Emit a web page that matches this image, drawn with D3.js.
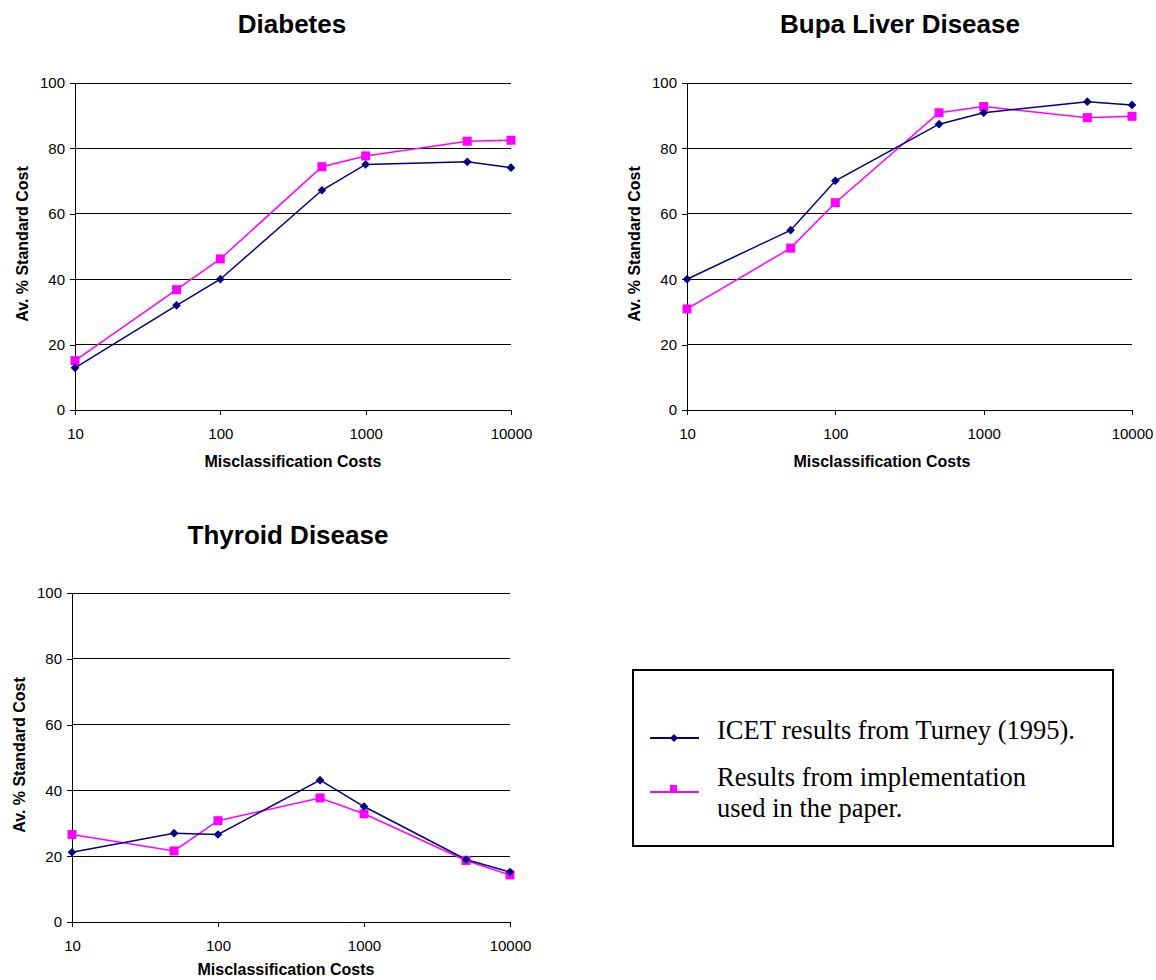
<!DOCTYPE html>
<html>
<head>
<meta charset="utf-8">
<script src="https://cdn.jsdelivr.net/npm/d3@7"></script>
<style>
  body { margin: 0; background: #fff; }
  svg { display: block; }
  .tick text { font-family: "Liberation Sans", Arial, sans-serif; font-size: 15px; fill: #000; }
</style>
</head>
<body>
<div class="chart"></div>
<script>
// misclassification costs (x values, same for every panel)
var costs = [10, 50, 100, 500, 1000, 5000, 10000];
var xTicks = [10, 100, 1000, 10000];
var yTicks = [0, 20, 40, 60, 80, 100];

// Av. % standard cost
var diabetesIcet = [12.9, 32.0, 40.0, 67.2, 75.1, 75.9, 74.1];
var diabetesImpl = [15.1, 36.8, 46.2, 74.4, 77.7, 82.2, 82.5];
var bupaIcet = [40.0, 55.0, 70.1, 87.4, 90.9, 94.3, 93.3];
var bupaImpl = [30.9, 49.5, 63.4, 90.9, 92.8, 89.4, 89.8];
var thyroidIcet = [21.2, 27.0, 26.6, 43.1, 35.1, 19.0, 15.2];
var thyroidImpl = [26.6, 21.6, 30.8, 37.7, 32.9, 18.7, 14.3];

var legendLabels = ["ICET results from Turney (1995).", "Results from implementation", "used in the paper."];

var icetColor = "#000080";
var implColor = "#ff00ff";

var svg = d3.select(".chart")
  .append("svg")
  .attr("width", 1156)
  .attr("height", 980);

// panel layout: plot box + title / axis label positions
var panels = [
  { title: "Diabetes", icet: diabetesIcet, impl: diabetesImpl,
    left: 75, right: 511, top: 83, bottom: 410,
    titleX: 292, titleY: 33, xLabelX: 293, xLabelY: 467, yLabelX: 22, yLabelY: 244 },
  { title: "Bupa Liver Disease", icet: bupaIcet, impl: bupaImpl,
    left: 687, right: 1132, top: 83, bottom: 410,
    titleX: 900, titleY: 33, xLabelX: 882, xLabelY: 467, yLabelX: 634, yLabelY: 244 },
  { title: "Thyroid Disease", icet: thyroidIcet, impl: thyroidImpl,
    left: 72, right: 510, top: 593, bottom: 922,
    titleX: 288, titleY: 544, xLabelX: 286, xLabelY: 975, yLabelX: 19, yLabelY: 755 }
];

function drawPanel(p) {
  var x = d3.scaleLog().domain([10, 10000]).range([p.left, p.right]);
  var y = d3.scaleLinear().domain([0, 100]).range([p.bottom, p.top]);

  var g = svg.append("g");

  // horizontal gridlines
  g.selectAll("line.grid")
    .data(yTicks.filter(d => d > 0))
    .enter()
    .append("line")
    .attr("class", "grid")
    .attr("x1", p.left)
    .attr("x2", p.right)
    .attr("y1", d => y(d))
    .attr("y2", d => y(d))
    .attr("stroke", "#000")
    .attr("stroke-width", 1)
    .attr("shape-rendering", "crispEdges");

  var leftAxis = d3.axisLeft(y)
    .tickValues(yTicks)
    .tickSize(5)
    .tickSizeOuter(0)
    .tickPadding(5);

  var bottomAxis = d3.axisBottom(x)
    .tickValues(xTicks)
    .tickFormat(d3.format("d"))
    .tickSize(5)
    .tickSizeOuter(0)
    .tickPadding(13);

  var yAxis = g.append("g")
    .attr("transform", `translate(${p.left}, 0)`)
    .call(leftAxis);

  var xAxis = g.append("g")
    .attr("transform", `translate(0, ${p.bottom})`)
    .call(bottomAxis);

  [xAxis, yAxis].forEach(function(a) {
    a.selectAll("path, line")
      .attr("stroke", "#000")
      .attr("shape-rendering", "crispEdges");
  });

  // title
  g.append("text")
    .attr("x", p.titleX)
    .attr("y", p.titleY)
    .attr("text-anchor", "middle")
    .style("font-family", "'Liberation Sans', Arial, sans-serif")
    .style("font-weight", "bold")
    .style("font-size", "26px")
    .text(p.title);

  g.append("text")
    .attr("x", p.xLabelX)
    .attr("y", p.xLabelY)
    .attr("text-anchor", "middle")
    .style("font-family", "'Liberation Sans', Arial, sans-serif")
    .style("font-weight", "bold")
    .style("font-size", "16px")
    .text("Misclassification Costs");

  g.append("text")
    .attr("transform", `translate(${p.yLabelX}, ${p.yLabelY}) rotate(-90)`)
    .attr("text-anchor", "middle")
    .attr("dy", "0.35em")
    .style("font-family", "'Liberation Sans', Arial, sans-serif")
    .style("font-weight", "bold")
    .style("font-size", "16px")
    .text("Av. % Standard Cost");

  var line = d3.line()
    .x((d, i) => x(costs[i]))
    .y(d => y(d));

  // implementation series (pink squares)
  g.append("path")
    .datum(p.impl)
    .attr("d", line)
    .attr("fill", "none")
    .attr("stroke", implColor)
    .attr("stroke-width", 1.5);

  // ICET series (navy diamonds)
  g.append("path")
    .datum(p.icet)
    .attr("d", line)
    .attr("fill", "none")
    .attr("stroke", icetColor)
    .attr("stroke-width", 1.5);

  g.selectAll("rect.impl")
    .data(p.impl)
    .enter()
    .append("rect")
    .attr("class", "impl")
    .attr("x", (d, i) => x(costs[i]) - 4.5)
    .attr("y", d => y(d) - 4.5)
    .attr("width", 9)
    .attr("height", 9)
    .attr("fill", implColor);

  g.selectAll("path.icet")
    .data(p.icet)
    .enter()
    .append("path")
    .attr("class", "icet")
    .attr("d", d3.symbol().type(d3.symbolDiamond2).size(48))
    .attr("transform", (d, i) => `translate(${x(costs[i])}, ${y(d)})`)
    .attr("fill", icetColor);
}

panels.forEach(drawPanel);

// legend
var legend = svg.append("g");

legend.append("rect")
  .attr("x", 633)
  .attr("y", 670)
  .attr("width", 480)
  .attr("height", 176)
  .attr("fill", "#fff")
  .attr("stroke", "#000")
  .attr("stroke-width", 2);

legend.append("line")
  .attr("x1", 650).attr("x2", 699)
  .attr("y1", 738).attr("y2", 738)
  .attr("stroke", icetColor)
  .attr("stroke-width", 2);

legend.append("path")
  .attr("d", d3.symbol().type(d3.symbolDiamond2).size(40))
  .attr("transform", "translate(674, 738)")
  .attr("fill", icetColor);

legend.append("line")
  .attr("x1", 650).attr("x2", 699)
  .attr("y1", 792).attr("y2", 792)
  .attr("stroke", implColor)
  .attr("stroke-width", 2);

legend.append("rect")
  .attr("x", 670).attr("y", 785)
  .attr("width", 7).attr("height", 7)
  .attr("fill", implColor);

legend.selectAll("text")
  .data(legendLabels)
  .enter()
  .append("text")
  .attr("x", 717)
  .attr("y", (d, i) => [739, 786, 817][i])
  .style("font-family", "'Liberation Serif', 'Times New Roman', serif")
  .style("font-size", "26.5px")
  .text(d => d);
</script>
</body>
</html>
